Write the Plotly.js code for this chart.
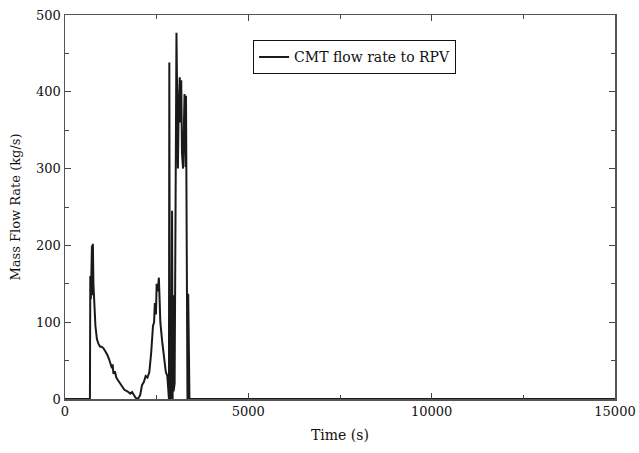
<!DOCTYPE html>
<html>
<head>
<meta charset="utf-8">
<script src="https://cdn.plot.ly/plotly-3.0.1.min.js"></script>
<style>html,body{margin:0;padding:0;background:#fff;}#chart{width:639px;height:453px;}</style>
</head>
<body>
<div id="chart"></div>
<script>
const timeS = [0,680,690,705,720,735,745,760,775,800,830,870,910,960,1000,1050,1100,1150,1200,1250,1280,1300,1320,1360,1400,1450,1500,1560,1620,1700,1780,1830,1870,1920,1960,2000,2050,2100,2150,2200,2250,2300,2350,2400,2430,2450,2480,2500,2530,2560,2580,2600,2650,2700,2750,2790,2820,2835,2845,2860,2900,2920,2935,2950,2960,2990,3040,3060,3080,3100,3130,3150,3170,3190,3220,3260,3290,3300,3320,3340,3360,3380,3395,15000];
const flowRate = [0,0,160,130,165,200,135,202,150,120,95,78,72,68,68,66,62,58,52,45,40,45,33,36,28,24,20,16,12,10,7,9,5,2,0,1,5,18,22,30,28,35,60,95,100,125,110,150,140,158,130,100,75,50,35,30,5,0,438,0,0,245,0,135,10,20,477,360,300,380,419,360,415,320,300,397,302,395,60,0,137,40,0,0];
const seriesName = "CMT flow rate to RPV";
const xTitle = "Time (s)";
const yTitle = "Mass Flow Rate (kg/s)";

const fam = "DejaVu Serif, serif";
const font = {family: fam, size: 13, color: "#111"};
const axisCommon = {
  showline: true, linecolor: "#555", linewidth: 1.5, mirror: "ticks",
  ticks: "inside", ticklen: 6, tickwidth: 1, tickcolor: "#444",
  showgrid: false, zeroline: false, tickfont: font
};
Plotly.newPlot("chart", [{
  x: timeS, y: flowRate, type: "scatter", mode: "lines",
  name: seriesName, line: {color: "#1a1a1a", width: 2}
}], {
  width: 639, height: 453,
  margin: {l: 65, r: 24, t: 15, b: 54},
  paper_bgcolor: "#fff", plot_bgcolor: "#fff",
  font: font,
  showlegend: true,
  legend: {x: 0.342, y: 0.934, xanchor: "left", yanchor: "top", bordercolor: "#111", borderwidth: 1, bgcolor: "#fff", font: {family: fam, size: 14, color: "#111"}},
  xaxis: Object.assign({}, axisCommon, {range: [0, 15000], tickvals: [0, 5000, 10000, 15000], ticktext: ["0","5000","10000","15000"],
    minor: {dtick: 2500, ticks: "inside", ticklen: 4, tickcolor: "#444"},
    title: {text: xTitle, font: {family: fam, size: 14, color: "#111"}, standoff: 12}}),
  yaxis: Object.assign({}, axisCommon, {range: [0, 500], dtick: 100,
    minor: {dtick: 50, ticks: "inside", ticklen: 4, tickcolor: "#444"},
    title: {text: yTitle, font: {family: fam, size: 13, color: "#111"}, standoff: 12}})
}, {displayModeBar: false, staticPlot: true});
</script>
</body>
</html>
